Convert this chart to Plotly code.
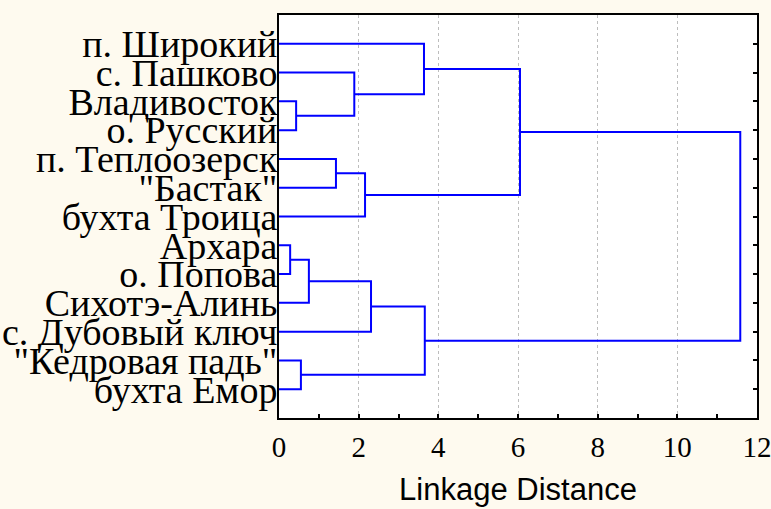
import plotly.graph_objects as go

# Leaf labels in display order (top to bottom)
labels = ["п. Широкий", "с. Пашково", "Владивосток", "о. Русский",
          "п. Теплоозерск", "\"Бастак\"", "бухта Троица", "Архара",
          "о. Попова", "Сихотэ-Алинь", "с. Дубовый ключ",
          "\"Кедровая падь\"", "бухта Емор"]

# Linkage steps: first child, second child, linkage distance.
# Indices < 13 are leaves; index 13 + k is the cluster formed at step k.
merge_a = [7, 2, 11, 13, 4, 1, 17, 16, 0, 20, 21, 23]
merge_b = [8, 3, 12, 9, 5, 14, 6, 10, 18, 15, 19, 22]
merge_d = [0.28, 0.43, 0.55, 0.75, 1.43, 1.89, 2.16, 2.31, 3.64, 3.66, 6.05, 11.58]

ticks_x = [0, 2, 4, 6, 8, 10, 12]

n = len(labels)
ypos = {i: i + 1 for i in range(n)}
xpos = {i: 0.0 for i in range(n)}

fig = go.Figure()
blue = "#0000FF"
for k, (a, b, d) in enumerate(zip(merge_a, merge_b, merge_d)):
    node = n + k
    ya, yb = ypos[a], ypos[b]
    fig.add_trace(go.Scatter(x=[xpos[a], d, d, xpos[b]], y=[ya, ya, yb, yb],
                             mode="lines", line=dict(color=blue, width=2),
                             hoverinfo="skip", showlegend=False))
    ypos[node] = (ya + yb) / 2
    xpos[node] = d

# invisible trace for right-side axis ticks
fig.add_trace(go.Scatter(x=[None], y=[None], yaxis="y2", showlegend=False))

fig.update_layout(
    width=771, height=509,
    paper_bgcolor="#FEFAEF",
    plot_bgcolor="#FFFFFF",
    margin=dict(l=279, r=14, t=15, b=91),
    xaxis=dict(
        range=[0, 12], tickvals=ticks_x, ticktext=[str(t) for t in ticks_x],
        ticks="inside", ticklen=4, tickcolor="black", tickwidth=1.5,
        minor=dict(ticks="inside", dtick=1, tick0=0, ticklen=4, tickcolor="black", showgrid=False),
        showgrid=True, gridcolor="#BDBDBD", griddash="dot", gridwidth=1,
        showline=True, linecolor="black", linewidth=2, mirror=True,
        zeroline=False, automargin=False, ticklabeloverflow="allow",
        ticklabelstandoff=2,
        tickfont=dict(family="Liberation Serif", size=29, color="black"),
        title=dict(text="Linkage Distance", font=dict(family="Liberation Sans", size=31, color="black"), standoff=17),
    ),
    yaxis=dict(
        range=[14, 0], tickvals=list(range(1, n + 1)), ticktext=labels,
        ticks="", showgrid=False, zeroline=False, automargin=False,
        showline=True, linecolor="black", linewidth=2, mirror=True,
        tickfont=dict(family="Liberation Serif", size=38, color="black"),
        ticklabelstandoff=-8, ticklabeloverflow="allow",
    ),
    yaxis2=dict(
        range=[14, 0], tickvals=list(range(1, n + 1)), overlaying="y", side="right",
        ticks="inside", ticklen=4, tickcolor="black", tickwidth=1.5, automargin=False,
        showticklabels=False, showgrid=False, zeroline=False, showline=False,
    ),
)

fig.write_html("out.html", config={"displayModeBar": False},
               post_script="document.body.style.margin='0';document.body.style.background='#FEFAEF';")
